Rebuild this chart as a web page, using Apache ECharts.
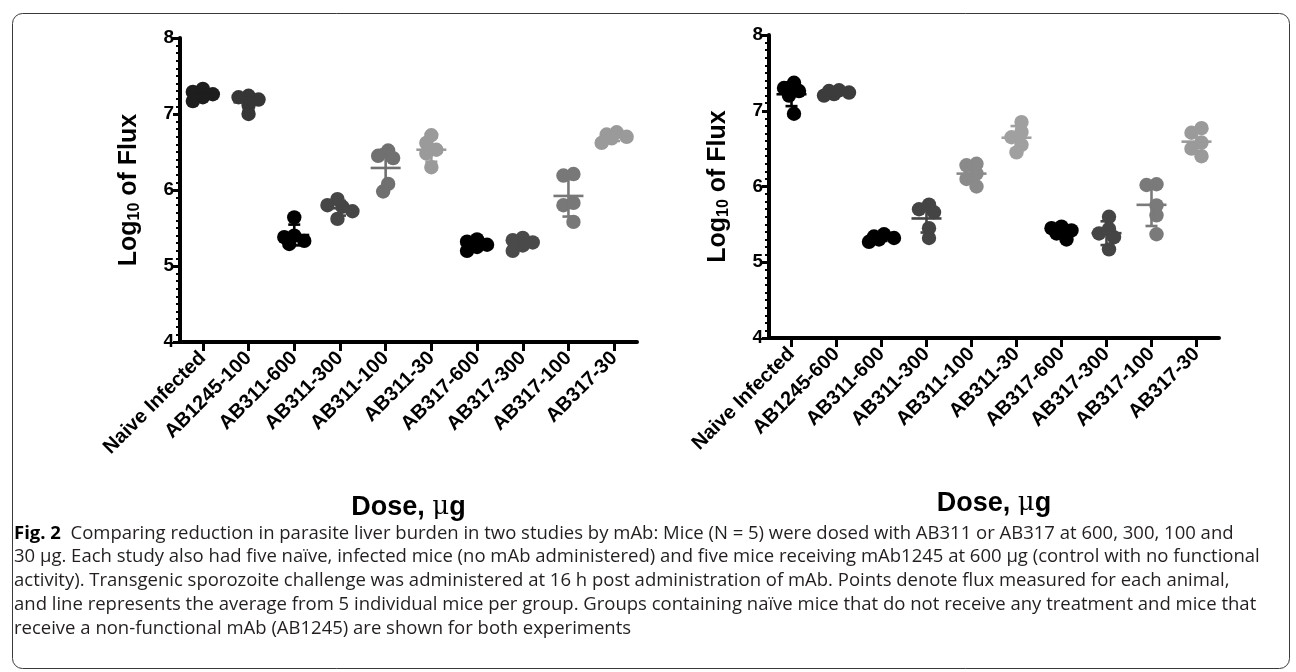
<!DOCTYPE html>
<html>
<head>
<meta charset="utf-8">
<script src="https://cdn.jsdelivr.net/npm/echarts@6/dist/echarts.min.js"></script>
<style>
  html, body { margin: 0; padding: 0; background: #ffffff; }
  #chart { width: 1296px; height: 672px; }
</style>
</head>
<body>
<div id="chart"></div>
<script>
// Treatment groups of the two studies
const groupsStudy1 = ['Naive Infected', 'AB1245-100', 'AB311-600', 'AB311-300', 'AB311-100',
  'AB311-30', 'AB317-600', 'AB317-300', 'AB317-100', 'AB317-30'];
const groupsStudy2 = ['Naive Infected', 'AB1245-600', 'AB311-600', 'AB311-300', 'AB311-100',
  'AB311-30', 'AB317-600', 'AB317-300', 'AB317-100', 'AB317-30'];

// Log10 flux measured for each of the five mice in a group
const fluxStudy1 = [
  [7.33, 7.29, 7.26, 7.22, 7.17],
  [7.24, 7.22, 7.19, 7.12, 7.00],
  [5.64, 5.40, 5.38, 5.33, 5.29],
  [5.88, 5.80, 5.78, 5.72, 5.62],
  [6.52, 6.45, 6.42, 6.08, 5.98],
  [6.72, 6.62, 6.53, 6.48, 6.30],
  [5.35, 5.32, 5.28, 5.25, 5.20],
  [5.37, 5.34, 5.31, 5.27, 5.20],
  [6.21, 6.19, 5.83, 5.80, 5.58],
  [6.76, 6.73, 6.70, 6.68, 6.62]
];
const fluxStudy2 = [
  [7.37, 7.30, 7.26, 7.20, 6.96],
  [7.27, 7.26, 7.24, 7.22, 7.20],
  [5.37, 5.34, 5.32, 5.30, 5.27],
  [5.76, 5.70, 5.66, 5.45, 5.32],
  [6.30, 6.28, 6.17, 6.10, 6.00],
  [6.85, 6.72, 6.65, 6.55, 6.45],
  [5.47, 5.45, 5.42, 5.38, 5.30],
  [5.60, 5.44, 5.38, 5.33, 5.17],
  [6.03, 6.02, 5.75, 5.62, 5.37],
  [6.77, 6.71, 6.58, 6.50, 6.40]
];

// Value axis range and ticks
const yMin = 4, yMax = 8, yStep = 1;

// Grey shade of each group
const shadesStudy1 = ['#1e1e1e', '#363636', '#000000', '#464646', '#707070',
  '#9a9a9a', '#000000', '#4a4a4a', '#787878', '#9a9a9a'];
const shadesStudy2 = ['#000000', '#3c3c3c', '#000000', '#444444', '#8a8a8a',
  '#a0a0a0', '#000000', '#454545', '#7a7a7a', '#9a9a9a'];

const captionLines = [
  '{b|Fig. 2}  Comparing reduction in parasite liver burden in two studies by mAb: Mice (N = 5) were dosed with AB311 or AB317 at 600, 300, 100 and',
  '30 μg. Each study also had five naïve, infected mice (no mAb administered) and five mice receiving mAb1245 at 600 μg (control with no functional',
  'activity). Transgenic sporozoite challenge was administered at 16 h post administration of mAb. Points denote flux measured for each animal,',
  'and line represents the average from 5 individual mice per group. Groups containing naïve mice that do not receive any treatment and mice that',
  'receive a non-functional mAb (AB1245) are shown for both experiments'
];

const FONT = 'Liberation Sans, Arial, sans-serif';
const MARK_R = 7.2;

function mean(a) { return a.reduce((s, v) => s + v, 0) / a.length; }
function sd(a) {
  const m = mean(a);
  return Math.sqrt(a.reduce((s, v) => s + (v - m) * (v - m), 0) / (a.length - 1));
}

// Swarm layout: each point, from top to bottom, takes the first sideways
// offset that keeps it clear of the points already placed (or the least
// crowded one), then the whole group is centred on its category.
function spread(ys, minDist, step) {
  const order = ys.map((y, i) => i).sort((a, b) => ys[a] - ys[b]);
  const cands = [0, -step, step, -2 * step, 2 * step, -3 * step, 3 * step];
  const off = new Array(ys.length).fill(0);
  const placed = [];
  order.forEach(idx => {
    let best = 0, bestD = -1;
    for (const c of cands) {
      let d = Infinity;
      placed.forEach(p => { d = Math.min(d, Math.hypot(c - off[p], ys[idx] - ys[p])); });
      if (d >= minDist) { best = c; bestD = d; break; }
      if (d > bestD) { best = c; bestD = d; }
    }
    off[idx] = best;
    placed.push(idx);
  });
  const shift = (Math.min(...off) + Math.max(...off)) / 2;
  return off.map(o => o - shift);
}

function groupRenderer(flux, shades) {
  return function (params, api) {
    const gi = api.value(0);
    const vals = flux[gi];
    const color = shades[gi];
    const pts = vals.map(v => api.coord([gi, v]));
    const cx = pts[0][0];
    const offs = spread(pts.map(p => p[1]), 9, 5);
    const m = mean(vals), s = sd(vals);
    const ym = api.coord([gi, m])[1];
    const yHi = api.coord([gi, m + s])[1];
    const yLo = api.coord([gi, m - s])[1];
    const lineStyle = { stroke: color, lineWidth: 2.6 };
    const children = [];
    pts.forEach((p, i) => {
      children.push({ type: 'circle', shape: { cx: cx + offs[i], cy: p[1], r: MARK_R }, style: { fill: color } });
    });
    children.push({ type: 'line', shape: { x1: cx, y1: yHi, x2: cx, y2: yLo }, style: lineStyle });
    children.push({ type: 'line', shape: { x1: cx - 6, y1: yHi, x2: cx + 6, y2: yHi }, style: lineStyle });
    children.push({ type: 'line', shape: { x1: cx - 6, y1: yLo, x2: cx + 6, y2: yLo }, style: lineStyle });
    children.push({ type: 'line', shape: { x1: cx - 15, y1: ym, x2: cx + 15, y2: ym }, style: lineStyle });
    return { type: 'group', children };
  };
}

function xAxisFor(gridIndex, groups) {
  return {
    type: 'category', gridIndex, data: groups, boundaryGap: true,
    axisLine: { show: true, onZero: false, lineStyle: { color: '#000', width: 4 } },
    axisTick: { show: true, alignWithLabel: true, length: 9, lineStyle: { color: '#000', width: 3 } },
    axisLabel: { interval: 0, rotate: 45, margin: 13, color: '#000', fontFamily: FONT, fontSize: 20, fontWeight: 'bold' },
    splitLine: { show: false },
    name: '{a|Dose, }{m|μ}{a|g}', nameLocation: 'middle', nameGap: 152,
    nameTextStyle: {
      rich: {
        a: { fontFamily: FONT, fontSize: 27, fontWeight: 'bold', color: '#000' },
        m: { fontFamily: 'DejaVu Serif, serif', fontSize: 26, color: '#000' }
      }
    }
  };
}

function yAxisFor(gridIndex) {
  return {
    type: 'value', gridIndex, min: yMin, max: yMax, interval: yStep,
    axisLine: { show: true, lineStyle: { color: '#000', width: 4 } },
    axisTick: { show: true, length: 7, lineStyle: { color: '#000', width: 3 } },
    minorTick: { show: true, splitNumber: 10, length: 4, lineStyle: { color: '#000', width: 2 } },
    splitLine: { show: false },
    axisLabel: { color: '#000', fontFamily: FONT, fontSize: 19, fontWeight: 'bold', margin: 6 },
    name: '{a|Log}{s|10}{a| of Flux}', nameLocation: 'middle', nameRotate: 90, nameGap: 36,
    nameTextStyle: {
      rich: {
        a: { fontFamily: FONT, fontSize: 25, fontWeight: 'bold', color: '#000', lineHeight: 30 },
        s: { fontFamily: FONT, fontSize: 16, fontWeight: 'bold', color: '#000', lineHeight: 30, padding: [12, 0, 0, 0] }
      }
    }
  };
}

const chart = echarts.init(document.getElementById('chart'), null, { renderer: 'canvas' });

const caption = captionLines.map((line, i) => ({
  type: 'text', left: 14, top: 524 + i * 23.7, silent: true,
  style: {
    text: line, fill: '#231f20', font: '18.5px "Open Sans", sans-serif',
    rich: { b: { fontFamily: 'Open Sans, sans-serif', fontSize: 18.5, fontWeight: 'bold', fill: '#000' } }
  }
}));

chart.setOption({
  animation: false,
  backgroundColor: '#ffffff',
  grid: [
    { left: 180, top: 38, width: 457, height: 304 },
    { left: 769, top: 35, width: 450, height: 303 }
  ],
  xAxis: [xAxisFor(0, groupsStudy1), xAxisFor(1, groupsStudy2)],
  yAxis: [yAxisFor(0), yAxisFor(1)],
  series: [
    {
      type: 'custom', xAxisIndex: 0, yAxisIndex: 0, clip: false,
      renderItem: groupRenderer(fluxStudy1, shadesStudy1),
      data: fluxStudy1.map((g, i) => [i, mean(g)])
    },
    {
      type: 'custom', xAxisIndex: 1, yAxisIndex: 1, clip: false,
      renderItem: groupRenderer(fluxStudy2, shadesStudy2),
      data: fluxStudy2.map((g, i) => [i, mean(g)])
    }
  ],
  graphic: [
    {
      type: 'rect', left: 10, top: 11, silent: true,
      shape: { width: 1277, height: 655, r: 10 },
      style: { fill: 'none', stroke: '#3a3a3a', lineWidth: 1 }
    },
    ...caption
  ]
});
</script>
</body>
</html>
